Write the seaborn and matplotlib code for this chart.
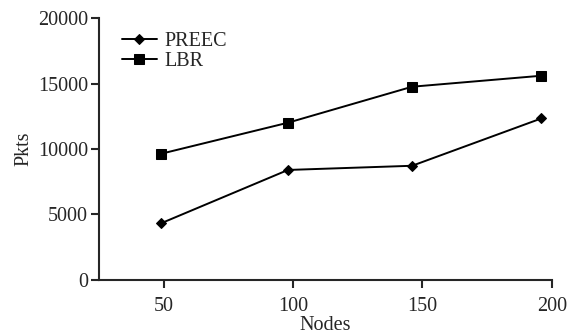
import pandas as pd
import matplotlib.pyplot as plt
import seaborn as sns

# values
nodes = [49, 98, 146, 196]
preec = [4330, 8400, 8720, 12340]
lbr = [9640, 12010, 14760, 15600]

df = pd.DataFrame({
    "Nodes": nodes * 2,
    "Pkts": preec + lbr,
    "Protocol": ["PREEC"] * len(nodes) + ["LBR"] * len(nodes),
})

sns.set_style("ticks")
plt.rcParams["font.family"] = ["Liberation Serif", "DejaVu Serif"]
fs = 14.5

fig = plt.figure(figsize=(5.73, 3.36), dpi=100)
ax = fig.add_axes([0.173, 0.167, 0.79, 0.779])

sns.lineplot(
    data=df, x="Nodes", y="Pkts", hue="Protocol", style="Protocol",
    markers={"PREEC": "D", "LBR": "s"}, dashes=False,
    palette={"PREEC": "black", "LBR": "black"},
    markersize=7, linewidth=1.4, markeredgecolor="black", ax=ax,
)
# diamonds a bit smaller than squares
for line in ax.lines:
    if line.get_marker() == "D":
        line.set_markersize(5.5)

ax.set_xlim(25, 200)
ax.set_ylim(0, 20000)
ax.set_xticks([50, 100, 150, 200])
ax.set_yticks([0, 5000, 10000, 15000, 20000])
ax.set_xlabel("Nodes", labelpad=0, fontsize=fs)
ax.set_ylabel("Pkts", labelpad=3, fontsize=fs)
ax.tick_params(axis="x", direction="out", length=6, width=1.5, labelsize=fs, pad=6)
ax.tick_params(axis="y", direction="out", length=6, width=1.5, labelsize=fs, pad=2)

sns.despine(ax=ax)
for s in ["left", "bottom"]:
    ax.spines[s].set_linewidth(1.5)

leg = ax.legend(loc="upper left", bbox_to_anchor=(0.02, 1.0), frameon=False,
                handlelength=1.7, handletextpad=0.4, labelspacing=0.05,
                borderaxespad=0.3, fontsize=fs)
for h in leg.legend_handles:
    h.set_color("black")

fig.savefig("out.png", dpi=100)
